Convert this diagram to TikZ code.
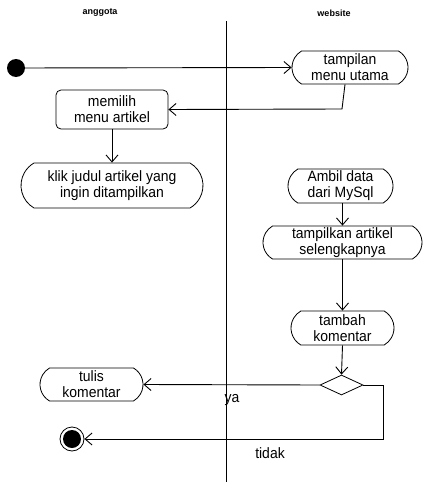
\documentclass[tikz,border=0pt]{standalone}
\usepackage{fontspec}
\setmainfont{Liberation Sans}
\newfontfamily\nodefont[FakeStretch=0.93]{Liberation Sans}
\usetikzlibrary{shapes.misc,shapes.geometric,arrows.meta}
\tikzset{
  txt/.style={font=\nodefont\fontsize{15}{16}\selectfont, align=center},
  act/.style={txt, draw, rounded rectangle, rounded rectangle arc length=120, inner sep=0pt, line width=0.8pt},
  boxed/.style={txt, draw, rounded corners=5pt, inner sep=0pt, line width=0.8pt},
  arr/.style={-{Straight Barb[length=7pt,width=12pt]}, line width=0.9pt},
  lane/.style={font=\bfseries\fontsize{9}{11}\selectfont},
}
\begin{document}
\begin{tikzpicture}[x=1pt,y=-1pt]
\useasboundingbox (0,0) rectangle (438,482);
\node[lane] (h1) at (100,13) {anggota};
\node[lane] (h2) at (334,13) {website};
\coordinate (lt) at (226,21);
\coordinate (lb) at (226,482);
\draw[line width=0.8pt] (lt) -- (lb);

\node[fill, circle, minimum size=18pt, inner sep=0pt] (init) at (16,68) {};
\node[act, minimum width=116pt, minimum height=33pt] (tampil) at (350,67.5) {tampilan\\menu utama};
\node[boxed, minimum width=112pt, minimum height=39pt] (memilih) at (112,109.5) {memilih\\menu artikel};
\node[act, minimum width=182pt, minimum height=45pt] (klik) at (112,185.5) {klik judul artikel yang\\ingin ditampilkan};
\node[act, minimum width=105pt, minimum height=34pt] (ambil) at (340.5,186) {Ambil data\\dari MySql};
\node[act, minimum width=159pt, minimum height=33pt] (tart) at (342.5,242.5) {tampilkan artikel\\selengkapnya};
\node[act, minimum width=103pt, minimum height=34pt] (tambah) at (342.5,328) {tambah\\komentar};
\node[draw, diamond, aspect=2.15, minimum width=43pt, minimum height=20pt, inner sep=0pt, line width=0.8pt] (dec) at (341.5,385) {};
\node[act, minimum width=103pt, minimum height=33pt] (tulis) at (91.5,384.5) {tulis\\komentar};
\node[circle, draw, line width=0.8pt, minimum size=24pt, inner sep=0pt] (final) at (72,439) {};
\fill (final.center) circle (9pt);

\coordinate (bend1) at (342,109);
\coordinate (r1) at (383,385);
\coordinate (r2) at (383,439);

\draw[arr] (init) -- (tampil.west);
\draw[arr] ([xshift=-5pt]tampil.south) -- (bend1) -- (memilih.east);
\draw[arr] (memilih.south) -- (klik.north);
\draw[arr] (ambil.south -| tart.north) -- (tart.north);
\draw[arr] (tart.south) -- (tambah.north -| tart.south);
\draw[arr] (tambah.south) -- (dec.north);
\draw[arr] (dec.west) -- (tulis.east);
\draw[arr] (dec.east) -- (r1) -- (r2) -- (final.east);

\node[txt] (ya) at (232,400) {ya};
\node[txt] (tidak) at (270,453) {tidak};
\end{tikzpicture}
\end{document}
